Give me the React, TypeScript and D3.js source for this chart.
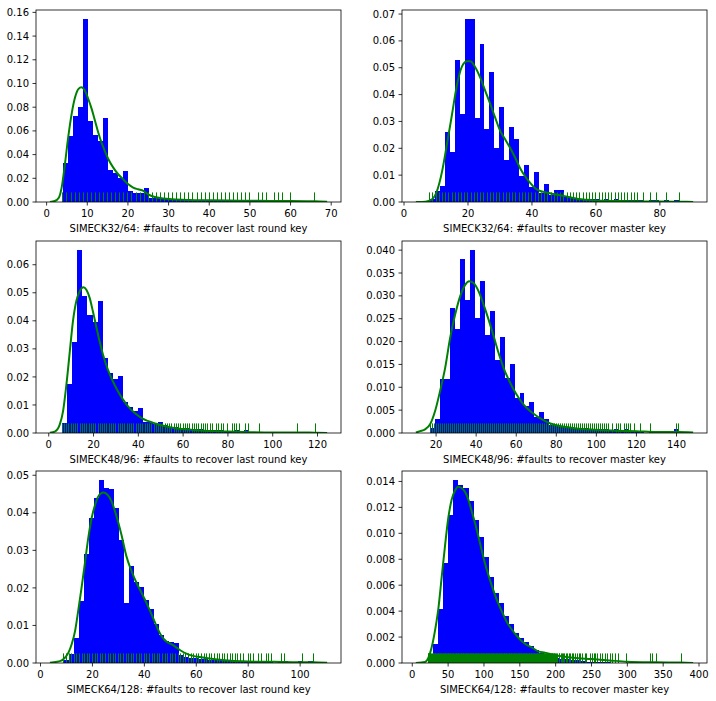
import React from 'react';
import * as d3 from 'd3';

const WIDTH = 716;
const HEIGHT = 701;

const labels = [
  'SIMECK32/64: #faults to recover last round key',
  'SIMECK32/64: #faults to recover master key',
  'SIMECK48/96: #faults to recover last round key',
  'SIMECK48/96: #faults to recover master key',
  'SIMECK64/128: #faults to recover last round key',
  'SIMECK64/128: #faults to recover master key',
];

// ---------- Panel 1: SIMECK32/64 last round key ----------
const range1 = [4, 66];
const hist1 = [
  0.0333, 0.0553, 0.0722, 0.0798, 0.1543, 0.068, 0.0563, 0.0516, 0.0705, 0.0273,
  0.0242, 0.02, 0.0265, 0.009, 0.0079, 0.0079, 0.0121, 0.0036, 0.0036, 0.0028,
  0.0032, 0.0024, 0.002, 0.002, 0.0016, 0.0016, 0.0012, 0.0012, 0.0008, 0.0012,
  0.0008, 0.0008, 0.0008, 0.0008, 0.0008, 0.0008, 0.0008, 0.0008, 0.0008, 0.0008,
  0.0008, 0.0008, 0.0008, 0.0008, 0, 0.0008, 0, 0, 0, 0.0008,
];
const kdeX1 = [0.8, 2, 3, 3.7, 4.5, 5.3, 6.15, 7, 7.8, 8.6, 9.4, 10.25, 11.1, 11.9, 12.7, 13.5, 14.3, 15.2, 16.4, 17.6, 18.85, 20.1, 21.3, 22.5, 23.8, 25, 26.6, 28.7, 31, 35, 40, 45, 50, 55, 60, 64, 66, 69];
const kdeY1 = [0.0001, 0.0008, 0.0036, 0.0121, 0.0318, 0.0544, 0.0742, 0.0883, 0.0953, 0.0968, 0.094, 0.0869, 0.0784, 0.0686, 0.0587, 0.0502, 0.0432, 0.0361, 0.029, 0.0234, 0.0191, 0.0149, 0.0121, 0.0107, 0.0093, 0.0064, 0.0042, 0.003, 0.0023, 0.0017, 0.0014, 0.0012, 0.0011, 0.0009, 0.0008, 0.0007, 0.0006, 0.0002];
const rug1 = [
  4, 5, 6, 7, 8, 9, 10, 11, 12, 13, 14, 15, 16, 17, 18, 19, 20, 21, 22, 23, 24, 25, 26, 27,
  28, 29, 30, 31, 32, 33, 34, 35, 36, 37, 38, 39, 40, 41, 42, 43, 44, 45, 46, 47, 48, 49, 50,
  52, 53, 54, 56, 57, 58, 60, 66,
];
const xTicks1 = [0, 10, 20, 30, 40, 50, 60, 70];
const yTicks1 = [0, 0.02, 0.04, 0.06, 0.08, 0.1, 0.12, 0.14, 0.16];

// ---------- Panel 2: SIMECK32/64 master key ----------
const range2 = [8, 86];
const hist2 = [
  0.0011, 0.0041, 0.0058, 0.0261, 0.0186, 0.0529, 0.0329, 0.0681, 0.0681, 0.0314,
  0.0588, 0.0273, 0.0483, 0.0201, 0.0355, 0.0156, 0.028, 0.0235, 0.0098, 0.0138,
  0.0055, 0.0111, 0.0033, 0.0066, 0.0025, 0.0044, 0.0044, 0.0021, 0.0018, 0.0014,
  0.0013, 0.0013, 0.0013, 0.0013, 0.0006, 0.0013, 0.0006, 0.0013, 0.0006, 0.0006,
  0.0006, 0.0006, 0.0006, 0, 0.0006, 0.0006, 0, 0.0006, 0, 0.0006,
];
const kdeX2 = [3.7, 6.66, 8.74, 10.3, 11.9, 13.4, 15, 16.6, 18.1, 19.7, 20.7, 22.3, 23.8, 25.4, 27, 28.5, 30.1, 31.7, 33.2, 34.8, 36.3, 37.9, 39.5, 41, 42.6, 44.2, 46.2, 48.3, 51.4, 54.6, 57.7, 60.8, 65, 70, 75, 80, 86, 90.4];
const kdeY2 = [0, 0.0001, 0.001, 0.0041, 0.0114, 0.0214, 0.0326, 0.0439, 0.0504, 0.0524, 0.0524, 0.0501, 0.0464, 0.0414, 0.0364, 0.0314, 0.0264, 0.0232, 0.0201, 0.0164, 0.0126, 0.0095, 0.007, 0.0051, 0.0041, 0.0036, 0.0031, 0.0026, 0.0019, 0.0011, 0.0008, 0.0005, 0.0004, 0.0003, 0.0002, 0.00015, 0.0001, 0.00003];
const rug2 = [
  8, 9, 10, 11, 12, 13, 14, 15, 16, 17, 18, 19, 20, 21, 22, 23, 24, 25, 26, 27, 28, 29, 30,
  31, 32, 33, 34, 35, 36, 37, 38, 39, 40, 41, 42, 43, 44, 45, 46, 47, 48, 49, 50, 51, 52, 53,
  54, 55, 56, 57, 58, 59, 60, 61, 62, 63, 64, 65, 66, 67, 68, 69, 70, 71, 72, 73,
  75, 77, 79, 82, 86,
];
const xTicks2 = [0, 20, 40, 60, 80];
const yTicks2 = [0, 0.01, 0.02, 0.03, 0.04, 0.05, 0.06, 0.07];

// ---------- Panel 3: SIMECK48/96 last round key ----------
const range3 = [6, 119];
const hist3 = [
  0.0037, 0.0173, 0.0325, 0.0652, 0.0488, 0.0421, 0.0396, 0.0471, 0.0268, 0.0215,
  0.0194, 0.0204, 0.0109, 0.0091, 0.0077, 0.009, 0.0041, 0.0041, 0.0031, 0.0041,
  0.0027, 0.0023, 0.0022, 0.0018, 0.0018, 0.0013, 0.0013, 0.0013, 0.0009, 0.0009,
  0.0009, 0.0009, 0.0004, 0.0004, 0.0009, 0, 0.0009, 0, 0.0004, 0,
  0, 0, 0, 0, 0, 0, 0.0004, 0, 0, 0.0004,
];
const kdeX3 = [0.5, 2.7, 4.9, 6.4, 7.9, 9.4, 10.8, 12.3, 13.8, 15.5, 16.8, 18.3, 19.7, 21.2, 22.7, 24.2, 26.4, 28.6, 30.9, 33.1, 35.3, 38.3, 41.3, 44.2, 48, 51.7, 57.6, 63.6, 70, 80, 90, 100, 110, 119, 124.3];
const kdeY3 = [0.0001, 0.0005, 0.003, 0.0078, 0.0173, 0.029, 0.0398, 0.047, 0.0505, 0.052, 0.0511, 0.0481, 0.0434, 0.038, 0.0327, 0.028, 0.0226, 0.0185, 0.0149, 0.012, 0.0096, 0.0072, 0.0054, 0.0043, 0.0033, 0.0025, 0.0016, 0.0012, 0.0008, 0.0005, 0.0003, 0.0002, 0.0002, 0.0001, 0.00003];
const rug3 = [
  6, 7, 8, 9, 10, 11, 12, 13, 14, 15, 16, 17, 18, 19, 20, 21, 22, 23, 24, 25, 26, 27, 28, 29,
  30, 31, 32, 33, 34, 35, 36, 37, 38, 39, 40, 41, 42, 43, 44, 45, 46, 47, 48, 49, 50, 51, 52,
  53, 54, 55, 56, 57, 58, 59, 60, 61, 62, 63, 64, 65, 66, 67, 68, 69, 70, 71, 72, 73,
  75, 76, 77, 78, 80, 82, 83, 84, 85, 88, 89, 94, 111, 119,
];
const xTicks3 = [0, 20, 40, 60, 80, 100, 120];
const yTicks3 = [0, 0.01, 0.02, 0.03, 0.04, 0.05, 0.06];

// ---------- Panel 4: SIMECK48/96 master key ----------
const range4 = [17, 141];
const hist4 = [
  0.0011, 0.0031, 0.0119, 0.0119, 0.0274, 0.0227, 0.038, 0.029, 0.04, 0.0252,
  0.0333, 0.0215, 0.0267, 0.016, 0.021, 0.0121, 0.015, 0.0076, 0.0088, 0.006,
  0.0068, 0.0035, 0.0047, 0.003, 0.0018, 0.0016, 0.0016, 0.0012, 0.0012, 0.0012,
  0.0008, 0.0012, 0.0008, 0.0008, 0.0008, 0.0008, 0.0004, 0.0008, 0.0004, 0.0008,
  0.0004, 0.0004, 0.0004, 0, 0.0004, 0, 0, 0, 0, 0.0008,
];
const kdeX4 = [9.9, 12, 14.5, 17, 19.5, 22, 24.5, 27, 29.5, 32, 34.5, 36.5, 38.7, 41.2, 43.7, 46.2, 48.7, 51.2, 53.7, 56.2, 58.7, 61.2, 63.7, 66.2, 68.7, 71.2, 74, 77, 80, 85, 90, 100, 110, 120, 130, 141, 148.3];
const kdeY4 = [0.0001, 0.0004, 0.0008, 0.0019, 0.0048, 0.0092, 0.0142, 0.0208, 0.0259, 0.0299, 0.0324, 0.0332, 0.0328, 0.031, 0.0281, 0.0248, 0.0212, 0.0175, 0.0142, 0.0117, 0.0095, 0.0077, 0.0062, 0.0051, 0.0042, 0.0034, 0.0027, 0.0021, 0.0017, 0.0013, 0.001, 0.0007, 0.0005, 0.0004, 0.0002, 0.0002, 0.0001];
const rug4 = [
  17, 18, 19, 20, 21, 22, 23, 24, 25, 26, 27, 28, 29, 30, 31, 32, 33, 34, 35, 36, 37, 38, 39,
  40, 41, 42, 43, 44, 45, 46, 47, 48, 49, 50, 51, 52, 53, 54, 55, 56, 57, 58, 59, 60, 61, 62,
  63, 64, 65, 66, 67, 68, 69, 70, 71, 72, 73, 74, 75, 76, 77, 78, 79, 80, 81, 82, 83, 84, 85,
  86, 87, 88, 89, 90, 91, 92, 93, 94, 95, 96, 97, 98, 99, 100, 101, 102, 103, 104, 105, 106,
  108, 110, 111, 112, 114, 115, 116, 117, 119, 122, 127, 140, 141,
];
const xTicks4 = [20, 40, 60, 80, 100, 120, 140];
const yTicks4 = [0, 0.005, 0.01, 0.015, 0.02, 0.025, 0.03, 0.035, 0.04];

// ---------- Panel 5: SIMECK64/128 last round key ----------
const range5 = [9, 105];
const hist5 = [
  0.0007, 0.0023, 0.0067, 0.0166, 0.029, 0.0386, 0.0439, 0.0487, 0.0465, 0.0463,
  0.0412, 0.0328, 0.016, 0.0258, 0.0217, 0.0203, 0.0168, 0.0144, 0.0105, 0.0075,
  0.0058, 0.0056, 0.0053, 0.0022, 0.0017, 0.0012, 0.0012, 0.001, 0.001, 0.0008,
  0.0008, 0.0008, 0.0005, 0.0005, 0.0005, 0.0005, 0.0005, 0.0005, 0.0005, 0.0005,
  0.0005, 0.0005, 0, 0.0005, 0.0005, 0, 0, 0.0005, 0, 0.0005,
];
const kdeX5 = [3.6, 7.5, 9.4, 10.7, 12, 13.3, 14.5, 15.8, 17.1, 18.4, 19.7, 21, 22.2, 24.2, 25.7, 27.4, 29.3, 31.2, 33.1, 35.1, 37, 38.9, 40.8, 42.8, 44.7, 46.6, 48.5, 50.4, 52.4, 54.3, 56.2, 58.8, 61.3, 65, 70, 80, 90, 100, 105, 110.4];
const kdeY5 = [0.0001, 0.0005, 0.0014, 0.0027, 0.005, 0.0085, 0.0138, 0.02, 0.0266, 0.0333, 0.0386, 0.0421, 0.0443, 0.0454, 0.0449, 0.043, 0.039, 0.0341, 0.0284, 0.0244, 0.0213, 0.0187, 0.016, 0.0129, 0.0098, 0.0072, 0.0057, 0.005, 0.0041, 0.0032, 0.0025, 0.0019, 0.0016, 0.0012, 0.0008, 0.0004, 0.0003, 0.0002, 0.0002, 0.00005];
const rug5 = [
  9, 10, 11, 12, 13, 14, 15, 16, 17, 18, 19, 20, 21, 22, 23, 24, 25, 26, 27, 28, 29, 30, 31,
  32, 33, 34, 35, 36, 37, 38, 39, 40, 41, 42, 43, 44, 45, 46, 47, 48, 49, 50, 51, 52, 53, 54,
  55, 56, 57, 58, 59, 60, 61, 62, 63, 64, 65, 66, 67, 68, 69, 70, 71, 72, 73, 74, 75, 76, 77, 78,
  80, 81, 82, 84, 85, 87, 88, 89, 93, 94, 101, 105,
];
const xTicks5 = [0, 20, 40, 60, 80, 100];
const yTicks5 = [0, 0.01, 0.02, 0.03, 0.04, 0.05];

// ---------- Panel 6: SIMECK64/128 master key ----------
const range6 = [22, 375];
const hist6 = [
  0.0003, 0.0015, 0.0042, 0.0077, 0.0114, 0.0141, 0.0137, 0.0135, 0.0125, 0.011,
  0.0097, 0.0082, 0.0066, 0.0054, 0.0046, 0.0036, 0.003, 0.0023, 0.0019, 0.0016,
  0.0013, 0.001, 0.0008, 0.0006, 0.0005, 0.0004, 0.0003, 0.0003, 0.0002, 0.0002,
  0.00015, 0.0001, 0.0001, 0.00008, 0.00005, 0.00004, 0.00003, 0.00002, 0.00002, 0.00001,
  0.00001, 0, 0, 0, 0.00001, 0.00001, 0.00001, 0, 0, 0.00001,
];
const kdeX6 = [5, 17.7, 22.4, 27, 31.7, 36.4, 41, 45.6, 50.3, 55, 59.6, 64.2, 68.9, 73.5, 78.2, 82.9, 87.5, 92.1, 96.8, 101.4, 106.1, 110.7, 117.7, 124.7, 131.6, 138.6, 145.6, 152.6, 159.5, 166.5, 175.8, 185.1, 200, 225, 250, 275, 300, 340, 375, 391.8];
const kdeY6 = [0, 0.00008, 0.0004, 0.0012, 0.0025, 0.0042, 0.0066, 0.009, 0.0112, 0.0126, 0.0133, 0.0136, 0.0135, 0.0132, 0.0126, 0.0117, 0.0108, 0.0098, 0.0087, 0.0077, 0.0068, 0.006, 0.0049, 0.004, 0.0032, 0.0026, 0.0021, 0.0017, 0.0014, 0.0012, 0.0009, 0.0008, 0.0006, 0.0004, 0.0003, 0.0002, 0.0001, 0.00005, 0.00003, 0];
const rug6 = [
  22, 23, 24, 25, 26, 27, 28, 29, 30, 31, 32, 33, 34, 35, 36, 37, 38, 39, 40, 41, 42, 43, 44,
  45, 46, 47, 48, 49, 50, 51, 52, 53, 54, 55, 56, 57, 58, 59, 60, 61, 62, 63, 64, 65, 66, 67,
  68, 69, 70, 71, 72, 73, 74, 75, 76, 77, 78, 79, 80, 81, 82, 83, 84, 85, 86, 87, 88, 89, 90,
  91, 92, 93, 94, 95, 96, 97, 98, 99, 100, 101, 102, 103, 104, 105, 106, 107, 108, 109, 110,
  111, 112, 113, 114, 115, 116, 117, 118, 119, 120, 121, 122, 123, 124, 125, 126, 127, 128,
  129, 130, 131, 132, 133, 134, 135, 136, 137, 138, 139, 140, 141, 142, 143, 144, 145, 146,
  147, 148, 149, 150, 151, 152, 153, 154, 155, 156, 157, 158, 159, 160, 161, 162, 163, 164,
  165, 166, 167, 168, 169, 170, 171, 172, 173, 174, 175, 176, 177, 178, 179, 180, 181, 182,
  183, 184, 185, 186, 187, 188, 189, 190, 191, 192, 193, 194, 195, 196, 197, 198, 199, 200,
  201, 203, 205, 206, 208, 210, 211, 213, 215, 217, 219, 221, 223, 225, 227, 230, 233, 235,
  238, 241, 243, 248, 251, 254, 256, 259, 263, 266, 269, 272, 276, 279, 283, 287, 299, 333,
  335, 341, 375,
];
const xTicks6 = [0, 50, 100, 150, 200, 250, 300, 350, 400];
const yTicks6 = [0, 0.002, 0.004, 0.006, 0.008, 0.01, 0.012, 0.014];

// ---------- layout ----------
const colLeft = { l: 36, r: 341 };
const colRight = { l: 402, r: 707 };
const rows = [
  { t: 10, b: 202 },
  { t: 241, b: 433 },
  { t: 471, b: 663 },
];

const panels = [
  { hist: hist1, range: range1, kdeX: kdeX1, kdeY: kdeY1, rug: rug1, xTicks: xTicks1, yTicks: yTicks1, dec: 2, label: labels[0], col: colLeft, row: rows[0] },
  { hist: hist2, range: range2, kdeX: kdeX2, kdeY: kdeY2, rug: rug2, xTicks: xTicks2, yTicks: yTicks2, dec: 2, label: labels[1], col: colRight, row: rows[0] },
  { hist: hist3, range: range3, kdeX: kdeX3, kdeY: kdeY3, rug: rug3, xTicks: xTicks3, yTicks: yTicks3, dec: 2, label: labels[2], col: colLeft, row: rows[1] },
  { hist: hist4, range: range4, kdeX: kdeX4, kdeY: kdeY4, rug: rug4, xTicks: xTicks4, yTicks: yTicks4, dec: 3, label: labels[3], col: colRight, row: rows[1] },
  { hist: hist5, range: range5, kdeX: kdeX5, kdeY: kdeY5, rug: rug5, xTicks: xTicks5, yTicks: yTicks5, dec: 2, label: labels[4], col: colLeft, row: rows[2] },
  { hist: hist6, range: range6, kdeX: kdeX6, kdeY: kdeY6, rug: rug6, xTicks: xTicks6, yTicks: yTicks6, dec: 3, label: labels[5], col: colRight, row: rows[2] },
];

const FONT = '"DejaVu Sans", Verdana, sans-serif';

function Panel({ p, idx }: { p: any; idx: number }) {
  const { col, row } = p;
  const k0 = d3.min(p.kdeX) as number;
  const k1 = d3.max(p.kdeX) as number;
  const pad = (k1 - k0) * 0.05;
  const x = d3.scaleLinear().domain([k0 - pad, k1 + pad]).range([col.l, col.r]);
  const ymax = Math.max(d3.max(p.hist) as number, d3.max(p.kdeY) as number) * 1.05;
  const y = d3.scaleLinear().domain([0, ymax]).range([row.b, row.t]);
  const binW = (p.range[1] - p.range[0]) / p.hist.length;
  const pts: [number, number][] = p.kdeX.map((v: number, i: number) => [v, p.kdeY[i]]);
  const line = d3
    .line<[number, number]>()
    .x((d) => x(d[0]))
    .y((d) => y(d[1]))
    .curve(d3.curveMonotoneX);
  const rugH = (row.b - row.t) * 0.05;
  const fmt = d3.format(`.${p.dec}f`);
  const clipId = `clip-${idx}`;
  const snap = (v: number) => Math.round(v - 0.5) + 0.5;
  return (
    <g>
      <defs>
        <clipPath id={clipId}>
          <rect x={col.l} y={row.t} width={col.r - col.l} height={row.b - row.t} />
        </clipPath>
      </defs>
      <g clipPath={`url(#${clipId})`}>
        <g shapeRendering="crispEdges">
          {p.hist.map((h: number, i: number) => {
            if (h <= 0) return null;
            const xa = x(p.range[0] + i * binW);
            const xb = x(p.range[0] + (i + 1) * binW);
            return (
              <rect key={i} x={xa} y={y(h)} width={Math.max(0, xb - xa)} height={y(0) - y(h)} fill="#0000ff" />
            );
          })}
        </g>
        <path d={line(pts) || ''} fill="none" stroke="#008000" strokeWidth={2} />
        {p.rug.map((v: number, i: number) => (
          <line key={i} x1={snap(x(v))} x2={snap(x(v))} y1={y(0)} y2={y(0) - rugH} stroke="#008000" strokeWidth={1} />
        ))}
      </g>
      <rect x={col.l} y={row.t} width={col.r - col.l} height={row.b - row.t} fill="none" stroke="#000" strokeWidth={0.8} />
      {p.xTicks.map((t: number) => (
        <g key={`xt${t}`}>
          <line x1={x(t)} x2={x(t)} y1={row.b} y2={row.b + 3.5} stroke="#000" strokeWidth={0.8} />
          <text x={x(t)} y={row.b + 14.8} textAnchor="middle" fontSize={10} fontFamily={FONT} fill="#000">
            {t}
          </text>
        </g>
      ))}
      {p.yTicks.map((t: number) => (
        <g key={`yt${t}`}>
          <line x1={col.l - 3.5} x2={col.l} y1={y(t)} y2={y(t)} stroke="#000" strokeWidth={0.8} />
          <text x={col.l - 7} y={y(t) + 3.6} textAnchor="end" fontSize={10} fontFamily={FONT} fill="#000">
            {fmt(t)}
          </text>
        </g>
      ))}
      <text x={(col.l + col.r) / 2} y={row.b + 30} textAnchor="middle" fontSize={10} fontFamily={FONT} fill="#000">
        {p.label}
      </text>
    </g>
  );
}

export default function App() {
  return (
    <svg
      width={WIDTH}
      height={HEIGHT}
      style={{ position: 'absolute', left: 0, top: 0, background: '#fff' }}
      xmlns="http://www.w3.org/2000/svg"
    >
      <rect x={0} y={0} width={WIDTH} height={HEIGHT} fill="#fff" />
      {panels.map((p, i) => (
        <Panel key={i} p={p} idx={i} />
      ))}
    </svg>
  );
}
